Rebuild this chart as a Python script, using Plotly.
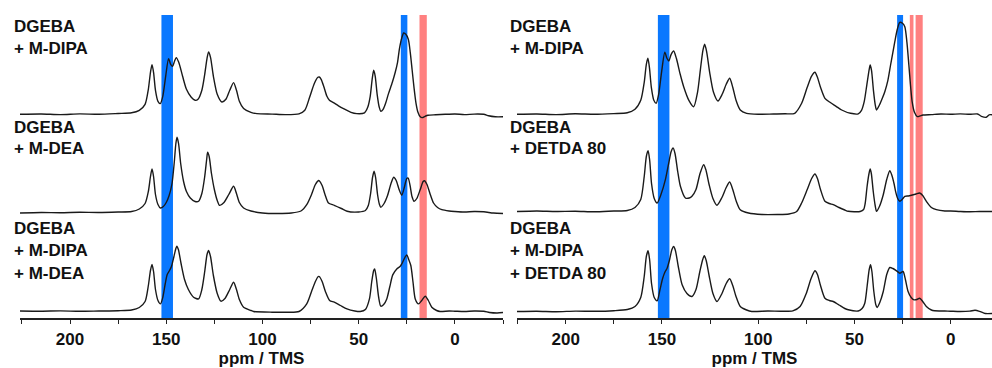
import plotly.graph_objects as go

# ---------------- data (ppm, intensity above own baseline) ----------------
LT_ppm = [226,215,205,195,185,175,168,164,161,159.3,158.2,157.4,156.6,155.6,154.3,153.1,151.8,150.3,148.8,147.7,146.7,145.7,144.8,143.5,141.5,139.5,137,135,133.5,131.5,130,128.8,128,127,125.5,123.5,121.1,119,117,115,113.5,112,109.8,106,102.9,95,88,81,78,75.5,73,71.2,70.5,69.5,68,66.5,65.2,63.1,60.5,57.9,54,51,47,45.3,44,43,42.2,41.4,40.4,39.3,38.5,37.3,36,34.5,32.5,31,29.8,28.8,27.5,26.6,25.5,24.2,23.2,22.2,21.2,20.2,19.2,18,17,15.5,14,10,5,0,-5,-10,-15,-17.5,-21,-25]
LT_int = [0,0.3,-0.3,0.4,0,0.8,1.5,4,10,25,42,49.7,42,24,13,10.7,18,38,55.7,50,48,53,56.7,52,38,25,17,14,15,24,40,56,62.3,57,38,20,12.3,15,24,31.7,24,13,5.7,2,0.7,0.2,-0.3,0.5,4,17,31,37,37.3,35,27,18,14,11.7,8.5,5.7,2,0.7,1.5,7,18,35,44,38,20,7,3,5,11,20.7,32,42,52,65.7,77,81.3,80,75,62,44,26,11,2,-2.5,-3.3,-2,-1,-0.5,0,0.3,-0.3,0.2,0,-1.5,-2.5,-2.5]

LM_ppm = [226,215,205,195,185,175,168,164,161,159.3,158.2,157.4,156.6,155.6,154.3,153,151.5,150,148.5,147,145.8,145,144.4,143.6,142.5,141,139.5,137.5,135,133.2,131.5,130,129,128.5,127.7,126.5,125,123.5,122.3,120,117.5,115,113.5,112,109.8,106,100,92,85,80,77,74.5,72.5,70.8,70.5,69,67.5,65.7,62.7,59,56,50,46.5,45,43.8,42.8,42,41.2,40.2,39.2,38.5,36.8,35,33.2,31.8,30.5,29,27.6,26.3,25,24.3,23.3,22.3,21.2,19.8,18,16.5,15.8,14.5,12.8,11.1,9,6.8,3,0,-5,-10,-15,-20,-25]
LM_int = [-1.5,-1,-1.2,-0.8,-1,-0.5,0,2.5,8,20,35,42.5,35,17,7,3.5,5,9,16,28,50,68,74.2,68,48,30,20,13.5,10,10.2,18,35,52,59.2,55,38,22,11,6.2,9,17,25.2,18,9,3.5,0.5,-1.5,-2,-1.5,0.5,6.8,17,27,31,30.8,26,17,8.5,6.2,3,0.2,-0.5,1,6,18,34,40.2,34,17,7,4.2,8,16,28,34.2,31,22,16.2,24,33,33.5,26,15,10.2,13,22,30,30.8,27,17,8.5,4,1.8,0.5,0,-0.5,0,-0.3,-1.5,-2]

LB_ppm = [226,215,205,195,185,175,168,164,161,159.3,158.2,157.4,156.6,155.6,154.3,153,151.8,150.5,149.5,148.3,147.3,146,145,144.5,143.7,142.3,140.5,138.5,135.8,133.2,131.5,130,128.8,128,127,125.5,123.5,121.6,119.5,117,115,113.5,112,109.8,106,104.6,95,88,81,77,74.5,72.5,71,70.5,69,67.3,65.1,62.7,59.5,56.1,52,49.2,46.5,44.4,43.2,42.2,41.7,40.8,39.6,38.5,37,35.4,33.8,32.3,30.2,28.5,27.6,26,25,24,22.9,21.8,20.6,18.9,17.2,15.4,13.8,12,9.5,7.7,3,0,-5,-10,-15,-18,-22,-25]
LB_int = [0.5,0.3,0.6,0.2,0.5,0.8,1.5,4,10,26,41,47,40,22,11,7.6,14,28,37,41,45,55,63,65.3,62,48,32,22,14.3,12.6,22,40,57,61,55,36,18,10.3,13,22,29.3,22,12,4.3,1,0,-0.7,-0.7,0,7.6,20,30,35,35,30,20,11,9.3,6,2.6,0.5,0,2,12.6,30,41,42.6,33,14,5.3,7,12.6,25,36.6,42.6,45,47.6,54,56.6,52,46,30,12.6,7.6,11,15.3,11,4.3,1,0,0.5,0.3,0,0.5,0.2,-1,-1.5,-1]

RT_ppm = [225.3,215,205,195,185,175,168,164,161,159.2,158.1,157.3,156.5,155.5,154.2,153,151.7,150.2,148.5,147.4,146.4,145.2,143.9,142.5,140.5,138.7,136,133.5,131.5,130,128.7,127.8,126.8,125.2,123.2,120.9,118.7,116.6,114.8,113.2,111.5,109.3,106,100,92,86,81,77.4,74.5,72.3,70.5,69.2,67.6,65.3,62.7,59.5,56.6,52,48,46.3,44.9,43.5,42.3,41.8,41.1,40.1,39.2,38.5,36.8,35.5,34.2,32.6,31.2,30,29,27.7,26.4,25,23.8,22.7,21.7,20.8,20,18.8,17.3,15.8,14.4,10,5,0,-5,-10,-14,-16,-18.5,-20,-21.5]
RT_int = [0,0.3,-0.3,0.5,0,0.7,1.5,5,14,32,50,56,47,27,14,11,20,42,62,56,53.3,60,63.3,56,40,27.6,14,7.6,22,45,64,70,63,42,22,13.3,20,30,36,27,14,4.3,1,0,0.3,0.5,1,11,27,38,42,37,27,16,12,8,4.3,1,0.5,4,12.6,30,45,49.3,44,24,10,4.3,10,16,22.6,34,49.3,62,72.6,85,92,91,87.6,72,49.3,28,12.6,2,-2.3,-1.5,-0.7,-0.3,0.3,0,0.4,0,0.3,-2,-3,-0.5,-0.5]

RM_ppm = [225.3,215,205,195,185,175,168,164,161,159.2,158.1,157.2,156.4,155.4,154,152.5,150.5,148.2,146.5,145.2,144.2,143.2,141.8,140.4,137.8,135.8,134.4,132.3,130.2,128.3,127.2,125.5,123.5,121.4,118.8,116.6,114.8,113.2,111.5,109.3,105,98,90,84,80,77.4,74.5,72.2,70.5,69.2,67.6,65.3,63,61,58,55,53.2,47,45.2,44.4,43.4,42.4,41.8,41.2,40.2,39.2,38.5,37,35,33.2,31.6,30.5,29.3,28.6,27.5,26.4,25.2,23.8,22,20.4,18,16.1,14.5,12.6,10,7.4,3,0,-5,-10,-15,-21.5]
RM_int = [0,0.5,0,0.3,-0.3,0.5,1,4,12,35,55,60.8,52,28,13,8.5,17,31.8,48,60,63.5,58,40,25.2,13.5,13.5,15.2,22,38,46.8,42,27,13,6.2,14,24,29.5,22,11,1.8,-1.5,-3,-3,-2.5,0,8.5,22,33,37.5,33,22,10.2,8,6.8,4,1.5,0.2,0,2,8,25,38,42.5,38,20,6,0.2,5,16.8,32,40.8,36,27,20.2,13,10.2,12,15.2,15.5,16.2,17.5,18.5,16,10.2,4,1.8,0.5,0.5,0,-0.3,0,0]

RB_ppm = [225.3,215,205,195,185,175,168,164,161,159.2,158.1,157.2,156.4,155.4,154,152.5,151,149.6,148.3,147.3,146,144.8,143.9,143,141.5,139.5,137,134.4,132.3,130.3,128.8,128,127,125.5,123.5,121.4,118.8,116.6,114.8,113.2,111.5,109.3,106,103.3,95,88,82,78.2,75,72.5,70.5,69.2,67.6,65.3,63,61,58,55,53.2,48,46,44.6,43.4,42.3,41.6,40.9,39.9,38.9,38.2,36.8,35,33.2,31.6,30,28.1,26.4,24.7,23.5,22.1,20.5,19,17.5,16.1,14.5,12.6,10,8.3,3,0,-5,-10,-12.7,-15,-18,-21.5]
RB_int = [0,0.3,-0.2,0.4,0.2,0.8,2,5,14,35,55,60.7,52,28,14,10.7,22,33.3,40,43.3,52,62,65,61,45,26.7,18,15,22,40,52,55.7,51,36,18,10,18,28,32.7,26,15,5,1.5,0,0.5,0.3,0.7,5,18,33,40.7,37,26,13.3,11,10,6.5,3,1.7,0.5,3,8.3,25,42,46.7,40,20,7,4,9,20,37,44,43,40.7,38.3,40,32,20,14,11.7,12,13.3,10,5,1.5,0.7,0.5,0.3,0,0.4,1.2,0.2,-2,-2]

TICKS = [200, 150, 100, 50, 0]
TICK_LABELS = ["200", "150", "100", "50", "0"]

LEFT_LABELS = [["DGEBA", "+ M-DIPA"], ["DGEBA", "+ M-DEA"], ["DGEBA", "+ M-DIPA", "+ M-DEA"]]
RIGHT_LABELS = [["DGEBA", "+ M-DIPA"], ["DGEBA", "+ DETDA 80"], ["DGEBA", "+ M-DIPA", "+ DETDA 80"]]

LEFT_BLUE = [(146.5, 152.5), (24.7, 28.1)]
LEFT_RED = [(14.6, 18.4)]
RIGHT_BLUE = [(146.1, 152.1), (24.7, 27.8)]
RIGHT_RED = [(19.3, 21.2), (14.5, 18.2)]

# ---------------- figure ----------------
W, H = 992, 368
PLOT_H = 318  # plot area height in px (bottom margin 50)
FONT = "Liberation Sans, Arial, sans-serif"

fig = go.Figure()
offsets = [203.7, 106.5, 6.5]


def add(ppm, inten, off, xa, ya):
    fig.add_trace(go.Scatter(
        x=ppm, y=[v + off for v in inten], mode="lines",
        line=dict(color="#1a1a1a", width=1.4, shape="spline", smoothing=0.7),
        xaxis=xa, yaxis=ya, hoverinfo="skip", showlegend=False))


for (p, i), off in zip([(LT_ppm, LT_int), (LM_ppm, LM_int), (LB_ppm, LB_int)], offsets):
    add(p, i, off, "x", "y")
for (p, i), off in zip([(RT_ppm, RT_int), (RM_ppm, RM_int), (RB_ppm, RB_int)], offsets):
    add(p, i, off, "x2", "y2")

shapes = []
BAND_TOP = PLOT_H - 15
for xr, yr, bands, col in [("x", "y", LEFT_BLUE, "#0A78FF"), ("x", "y", LEFT_RED, "#FF8080"),
                           ("x2", "y2", RIGHT_BLUE, "#0A78FF"), ("x2", "y2", RIGHT_RED, "#FF8080")]:
    for (a, b) in bands:
        shapes.append(dict(type="rect", xref=xr, yref=yr, x0=a, x1=b, y0=0, y1=BAND_TOP,
                           fillcolor=col, line=dict(width=0), layer="below"))

annotations = []
label_rows = [[27, 49], [127, 148], [229, 251, 273]]


def add_labels(labels, x_px):
    for lines, rows in zip(labels, label_rows):
        for txt, py in zip(lines, rows):
            annotations.append(dict(
                text="<b>%s</b>" % txt, xref="paper", yref="paper",
                x=x_px / W, y=(PLOT_H - py) / PLOT_H, xanchor="left", yanchor="middle",
                showarrow=False, font=dict(family=FONT, size=17, color="#111")))


add_labels(LEFT_LABELS, 12)
add_labels(RIGHT_LABELS, 508)

xcommon = dict(
    showline=True, linecolor="#222", linewidth=1.5, mirror=False,
    ticks="outside", ticklen=4, tickwidth=1.3, tickcolor="#222",
    tickvals=TICKS, ticktext=TICK_LABELS,
    minor=dict(tickvals=[225, 175, 125, 75, 25, -25], ticks="outside", ticklen=4,
               tickwidth=1.3, tickcolor="#222", showgrid=False),
    showgrid=False, zeroline=False,
    tickfont=dict(family=FONT, size=17, color="#111", weight="bold"),
    ticklabelstandoff=1,
    title=dict(text="ppm / TMS", font=dict(family=FONT, size=17, color="#111", weight="bold"),
               standoff=6),
)
ycommon = dict(range=[0, PLOT_H], visible=False, showgrid=False, zeroline=False, fixedrange=True)

fig.update_layout(
    width=W, height=H,
    margin=dict(l=0, r=0, t=0, b=50),
    paper_bgcolor="white", plot_bgcolor="white",
    xaxis=dict(domain=[20 / W, 503 / W], range=[226, -25], anchor="y", **xcommon),
    xaxis2=dict(domain=[517 / W, 1.0], range=[225.3, -21.5], anchor="y2", **xcommon),
    yaxis=dict(domain=[0, 1], anchor="x", **ycommon),
    yaxis2=dict(domain=[0, 1], anchor="x2", **ycommon),
    shapes=shapes, annotations=annotations,
    showlegend=False,
)

fig.write_html("out.html")
